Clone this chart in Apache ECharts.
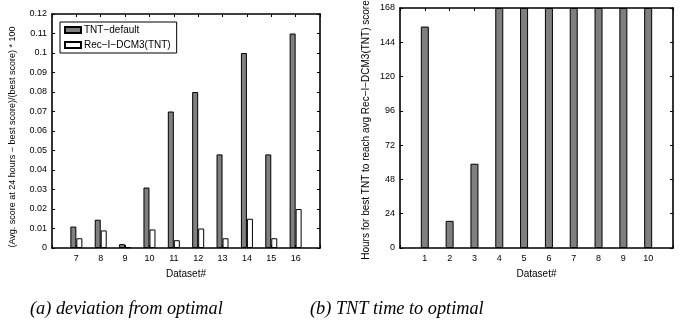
<!DOCTYPE html>
<html>
<head>
<meta charset="utf-8">
<script src="https://cdn.jsdelivr.net/npm/echarts@6/dist/echarts.min.js"></script>
<style>
  html, body { margin: 0; padding: 0; background: #fff; }
  #chart { width: 682px; height: 327px; }
</style>
</head>
<body>
<div id="chart"></div>
<script>
// (a) deviation from optimal
const datasetsA = [7, 8, 9, 10, 11, 12, 13, 14, 15, 16];
const tntDefault = [0.011, 0.0145, 0.002, 0.031, 0.070, 0.080, 0.048, 0.100, 0.048, 0.110];
const recDcm3 = [0.005, 0.009, 0.0004, 0.0095, 0.004, 0.010, 0.005, 0.015, 0.005, 0.020];
const ticksA = [0, 0.01, 0.02, 0.03, 0.04, 0.05, 0.06, 0.07, 0.08, 0.09, 0.1, 0.11, 0.12];

// (b) TNT time to optimal
const datasetsB = [1, 2, 3, 4, 5, 6, 7, 8, 9, 10];
const tntHours = [155, 19, 59, 168, 168, 168, 168, 168, 168, 168];
const ticksB = [0, 24, 48, 72, 96, 120, 144, 168];

const font = '"Liberation Sans", Arial, sans-serif';
const tickLabel = { color: '#000', fontSize: 9, fontFamily: font };

const chart = echarts.init(document.getElementById('chart'));

function xAxisFor(gridIndex, list, min, max, top) {
  return {
    gridIndex, type: 'value', min, max, interval: 1,
    position: top ? 'top' : 'bottom',
    axisLine: { show: true, onZero: false, lineStyle: { color: '#000', width: 1.6 } },
    axisTick: { show: true, inside: true, length: 3, lineStyle: { color: '#000' } },
    axisLabel: top ? { show: false } : {
      ...tickLabel, margin: 6,
      formatter: v => (list.includes(v) ? String(v) : '')
    },
    splitLine: { show: false },
    name: top ? '' : 'Dataset#',
    nameLocation: 'middle', nameGap: 21,
    nameTextStyle: { color: '#000', fontSize: 10, fontFamily: font }
  };
}

function yAxisFor(gridIndex, ticks, right, name, gap, size, pad) {
  return {
    gridIndex, type: 'value', min: ticks[0], max: ticks[ticks.length - 1],
    interval: ticks[1] - ticks[0],
    position: right ? 'right' : 'left',
    axisLine: { show: true, onZero: false, lineStyle: { color: '#000', width: 1.6 } },
    axisTick: { show: true, inside: true, length: 3, lineStyle: { color: '#000' } },
    axisLabel: right ? { show: false } : {
      ...tickLabel, margin: 5,
      formatter: v => String(+v.toFixed(2))
    },
    splitLine: { show: false },
    name: right ? '' : name,
    nameLocation: 'middle', nameGap: gap,
    nameTextStyle: { color: '#000', fontSize: size || 9, fontFamily: font, padding: pad || 0 }
  };
}

const option = {
  backgroundColor: '#fff',
  animation: false,
  grid: [
    { left: 52, top: 14, width: 268, height: 234, outerBoundsMode: 'none' },
    { left: 400, top: 8, width: 273, height: 240, outerBoundsMode: 'none' }
  ],
  xAxis: [
    xAxisFor(0, datasetsA, 6, 17, false),
    xAxisFor(0, datasetsA, 6, 17, true),
    xAxisFor(1, datasetsB, 0, 11, false),
    xAxisFor(1, datasetsB, 0, 11, true)
  ],
  yAxis: [
    yAxisFor(0, ticksA, false, '(Avg. score at 24 hours \u2212 best score)/(best score) * 100', 35, 9, [0, 12, 0, 0]),
    yAxisFor(0, ticksA, true),
    yAxisFor(1, ticksB, false, 'Hours for best TNT to reach avg Rec\u2212I\u2212DCM3(TNT) score', 29, 10, [0, 4, 0, 0]),
    yAxisFor(1, ticksB, true)
  ],
  legend: {
    left: 60, top: 22,
    orient: 'vertical',
    data: ['TNT\u2212default', 'Rec\u2212I\u2212DCM3(TNT)'],
    icon: 'rect',
    itemWidth: 16, itemHeight: 6, itemGap: 5,
    padding: [3, 6, 3, 4],
    borderColor: '#000', borderWidth: 1,
    backgroundColor: '#fff',
    textStyle: { color: '#000', fontSize: 10, fontFamily: font, padding: [0, 0, 0, -2] }
  },
  series: [
    {
      name: 'TNT\u2212default', type: 'bar',
      xAxisIndex: 0, yAxisIndex: 0,
      barWidth: 6, barGap: '0%',
      itemStyle: { color: '#7f7f7f', borderColor: '#000', borderWidth: 1 },
      data: datasetsA.map((d, i) => [d, tntDefault[i]])
    },
    {
      name: 'Rec\u2212I\u2212DCM3(TNT)', type: 'bar',
      xAxisIndex: 0, yAxisIndex: 0,
      barWidth: 6, barGap: '0%',
      itemStyle: { color: '#fff', borderColor: '#000', borderWidth: 1 },
      data: datasetsA.map((d, i) => [d, recDcm3[i]])
    },
    {
      name: 'TNT hours', type: 'bar',
      xAxisIndex: 2, yAxisIndex: 2,
      barWidth: 8,
      itemStyle: { color: '#7f7f7f', borderColor: '#000', borderWidth: 1 },
      data: datasetsB.map((d, i) => [d, tntHours[i]])
    }
  ],
  graphic: [
    {
      type: 'text', left: 30, top: 300,
      style: { text: '(a) deviation from optimal', fill: '#000',
        font: 'italic 18.3px "Liberation Serif", "Times New Roman", serif' }
    },
    {
      type: 'text', left: 310, top: 300,
      style: { text: '(b) TNT time to optimal', fill: '#000',
        font: 'italic 18.3px "Liberation Serif", "Times New Roman", serif' }
    }
  ]
};

chart.setOption(option);
</script>
</body>
</html>
